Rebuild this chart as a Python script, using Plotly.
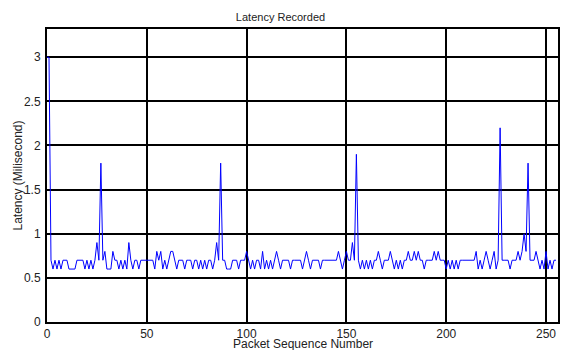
import plotly.graph_objects as go

latency = [
    3.0, 3.0, 0.7, 0.6, 0.7, 0.6, 0.7, 0.6, 0.7, 0.7,
    0.7, 0.6, 0.6, 0.6, 0.6, 0.7, 0.7, 0.7, 0.7, 0.6,
    0.7, 0.6, 0.7, 0.6, 0.7, 0.9, 0.7, 1.8, 0.7, 0.8,
    0.6, 0.6, 0.6, 0.8, 0.7, 0.7, 0.6, 0.7, 0.6, 0.7,
    0.6, 0.9, 0.7, 0.6, 0.7, 0.7, 0.6, 0.7, 0.7, 0.7,
    0.7, 0.7, 0.7, 0.7, 0.6, 0.8, 0.7, 0.8, 0.6, 0.7,
    0.6, 0.7, 0.8, 0.8, 0.7, 0.6, 0.7, 0.7, 0.7, 0.6,
    0.7, 0.7, 0.7, 0.6, 0.7, 0.7, 0.6, 0.7, 0.6, 0.7,
    0.6, 0.7, 0.7, 0.6, 0.7, 0.9, 0.7, 1.8, 0.7, 0.7,
    0.6, 0.6, 0.6, 0.7, 0.7, 0.7, 0.6, 0.7, 0.7, 0.7,
    0.8, 0.7, 0.6, 0.7, 0.6, 0.7, 0.7, 0.6, 0.8, 0.6,
    0.7, 0.6, 0.7, 0.6, 0.7, 0.8, 0.7, 0.6, 0.7, 0.7,
    0.7, 0.7, 0.6, 0.7, 0.7, 0.7, 0.7, 0.7, 0.6, 0.7,
    0.8, 0.7, 0.6, 0.7, 0.7, 0.7, 0.7, 0.6, 0.7, 0.7,
    0.7, 0.7, 0.7, 0.7, 0.7, 0.7, 0.8, 0.7, 0.6, 0.7,
    0.8, 0.7, 0.7, 0.9, 0.7, 1.9, 0.7, 0.6, 0.7, 0.6,
    0.7, 0.6, 0.7, 0.6, 0.7, 0.7, 0.8, 0.7, 0.6, 0.7,
    0.7, 0.7, 0.8, 0.7, 0.6, 0.7, 0.6, 0.7, 0.6, 0.7,
    0.7, 0.8, 0.7, 0.7, 0.8, 0.7, 0.8, 0.7, 0.7, 0.6,
    0.7, 0.7, 0.7, 0.7, 0.8, 0.7, 0.8, 0.7, 0.7, 0.7,
    0.6, 0.7, 0.6, 0.7, 0.6, 0.7, 0.6, 0.7, 0.7, 0.7,
    0.7, 0.7, 0.7, 0.7, 0.7, 0.8, 0.6, 0.7, 0.6, 0.7,
    0.8, 0.7, 0.6, 0.7, 0.8, 0.6, 0.7, 2.2, 0.7, 0.7,
    0.7, 0.7, 0.6, 0.7, 0.7, 0.7, 0.8, 0.7, 0.8, 1.0,
    0.8, 1.8, 0.7, 0.7, 0.7, 0.8, 0.7, 0.6, 0.7, 0.6,
    0.8, 0.6, 0.7, 0.6, 0.7, 0.7,
]
seq = list(range(len(latency)))
x_ticks = [0, 50, 100, 150, 200, 250]
y_ticks = [0, 0.5, 1, 1.5, 2, 2.5, 3]
y_tick_labels = ["0", "0.5", "1", "1.5", "2", "2.5", "3"]

fig = go.Figure()
fig.add_trace(go.Scatter(x=seq, y=latency, mode="lines",
                         line=dict(color="#0000ff", width=1), cliponaxis=False))

fig.update_layout(
    width=561, height=350,
    margin=dict(l=47, r=3, t=29, b=28, autoexpand=False),
    paper_bgcolor="white", plot_bgcolor="white",
    showlegend=False,
    font=dict(family="Liberation Sans, Arial, sans-serif", color="#222", size=12),
    title=dict(text="Latency Recorded", x=0.5, xanchor="center",
               y=1 - 17 / 350, yanchor="middle", font=dict(size=11, color="#222")),
    annotations=[
        dict(text="Packet Sequence Number", xref="paper", yref="paper",
             x=0.5, y=-22 / 293, xanchor="center", yanchor="middle",
             showarrow=False, font=dict(size=12, color="#222")),
        dict(text="Latency (Milisecond)", xref="paper", yref="paper",
             x=-30 / 511, y=0.5, xanchor="center", yanchor="middle",
             textangle=-90, showarrow=False, font=dict(size=12, color="#222")),
    ],
)
fig.update_xaxes(
    range=[0, 256], tickvals=x_ticks, ticktext=[str(t) for t in x_ticks],
    showgrid=True, gridcolor="black", gridwidth=2,
    showline=True, linecolor="black", linewidth=2, mirror=True,
    zeroline=False, ticks="", ticklabelstandoff=0, automargin=False,
)
fig.update_yaxes(
    range=[0, 3.32], tickvals=y_ticks, ticktext=y_tick_labels,
    showgrid=True, gridcolor="black", gridwidth=2,
    showline=True, linecolor="black", linewidth=2, mirror=True,
    zeroline=False, ticks="", ticklabelstandoff=2, automargin=False,
)

fig.write_html("out.html", config={"displayModeBar": False},
               post_script="document.body.style.margin='0';document.body.style.overflow='hidden';")
